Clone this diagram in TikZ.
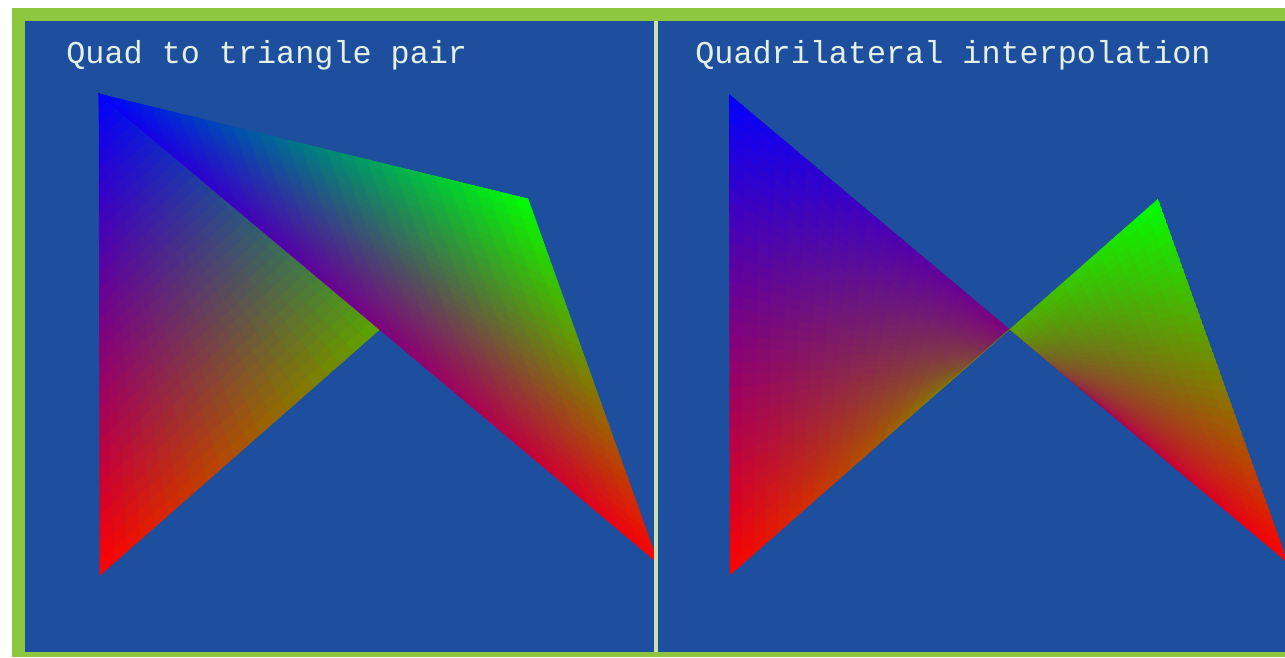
\documentclass[tikz,border=0pt]{standalone}
\usepackage{fontspec}
\setmonofont{Liberation Mono}
\usetikzlibrary{calc}

\definecolor{framegreen}{RGB}{141,198,63}
\definecolor{panelblue}{RGB}{30,78,158}
\definecolor{seppale}{RGB}{200,226,172}
\definecolor{labelwhite}{RGB}{228,240,228}

% bilinear patch: corners p00 p10 p11 p01, their colours, steps
\newcommand{\quadpatch}[9]{%
  \foreach \i in {1,...,#9}{
    \pgfmathsetmacro\ua{(\i-1)/#9}
    \pgfmathsetmacro\ub{\i/#9}
    \pgfmathsetmacro\um{100*(\i-0.5)/#9}
    \coordinate (s0) at ($(#1)!\ua!(#2)$);
    \coordinate (t0) at ($(#4)!\ua!(#3)$);
    \coordinate (s1) at ($(#1)!\ub!(#2)$);
    \coordinate (t1) at ($(#4)!\ub!(#3)$);
    \colorlet{ctop}{#6!\um!#5}
    \colorlet{cbot}{#7!\um!#8}
    \foreach \j in {1,...,#9}{
      \pgfmathsetmacro\va{(\j-1)/#9}
      \pgfmathsetmacro\vb{\j/#9}
      \pgfmathsetmacro\vm{100*(\j-0.5)/#9}
      \colorlet{cell}{cbot!\vm!ctop}
      \filldraw[cell,line width=0.35pt,line join=round]
        ($(s0)!\va!(t0)$) -- ($(s1)!\va!(t1)$) -- ($(s1)!\vb!(t1)$) -- ($(s0)!\vb!(t0)$) -- cycle;
    }
  }
}

\tikzset{
  title/.style={anchor=base west,inner sep=0pt,text=labelwhite,
    font=\ttfamily\fontsize{18.1}{20}\selectfont},
}

\begin{document}
\begin{tikzpicture}[x=0.02cm,y=-0.02cm]
    \useasboundingbox (0,0) rectangle (1285,657);
    \fill[white] (0,0) rectangle (1285,657);
    \fill[framegreen] (12,8) rectangle (1285,657);
    \fill[panelblue] (25,21) rectangle (1285,652);

    % left panel: two triangles
    \coordinate (A) at (99,94);
    \coordinate (B) at (528,199);
    \coordinate (C) at (658,563);
    \coordinate (D) at (100,575);
    \begin{scope}
        \clip (25,21) rectangle (655,652);
        \quadpatch{A}{B}{D}{A}{blue}{green}{red}{blue}{32}
        \quadpatch{A}{C}{B}{A}{blue}{red}{green}{blue}{32}
    \end{scope}

    % right panel: one bilinear quad, kept inside its outline
    \coordinate (A2) at (729,94);
    \coordinate (B2) at (1158,199);
    \coordinate (C2) at (1288,563);
    \coordinate (D2) at (730,575);
    \coordinate (X2) at (intersection of A2--C2 and D2--B2);
    \begin{scope}
        \clip (657,21) rectangle (1285,652);
        \clip (A2) -- (X2) -- (D2) -- cycle (X2) -- (B2) -- (C2) -- cycle;
        \quadpatch{A2}{C2}{B2}{D2}{blue}{red}{green}{red}{36}
    \end{scope}

    \draw[seppale,line width=2.2pt] (656,21) -- (656,652);

    \node[title] (lefttitle) at (66,63) {Quad to triangle pair};
    \node[title] (righttitle) at (695,63) {Quadrilateral interpolation};
\end{tikzpicture}
\end{document}
